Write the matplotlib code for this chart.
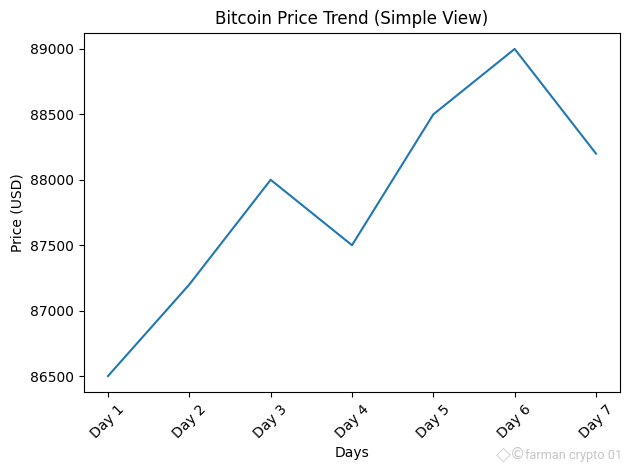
import matplotlib
matplotlib.use("Agg")
import matplotlib.pyplot as plt

days = ["Day 1", "Day 2", "Day 3", "Day 4", "Day 5", "Day 6", "Day 7"]
prices = [86500, 87200, 88000, 87500, 88500, 89000, 88200]

fig = plt.figure(figsize=(6.3, 4.7))
plt.plot(days, prices)
plt.title("Bitcoin Price Trend (Simple View)")
plt.xlabel("Days")
plt.ylabel("Price (USD)")
plt.xticks(rotation=45)
plt.subplots_adjust(left=83.6 / 630, right=620.4 / 630, top=1 - 32.6 / 470, bottom=1 - 392.4 / 470)

# watermark bottom right
wm_color = "#c6c6c6"
fig.text(622 / 630, 1 - 455 / 470, "farman crypto 01", ha="right", va="center",
         fontsize=9.2, color=wm_color, family="Roboto")
fig.text(517.5 / 630, 1 - 454.5 / 470, "©", ha="center", va="center",
         fontsize=11, color=wm_color)
fig.text(503 / 630, 1 - 454.5 / 470, "◇", ha="center", va="center",
         fontsize=14, color="#d4d4d4")

plt.savefig("out.png", dpi=100)
